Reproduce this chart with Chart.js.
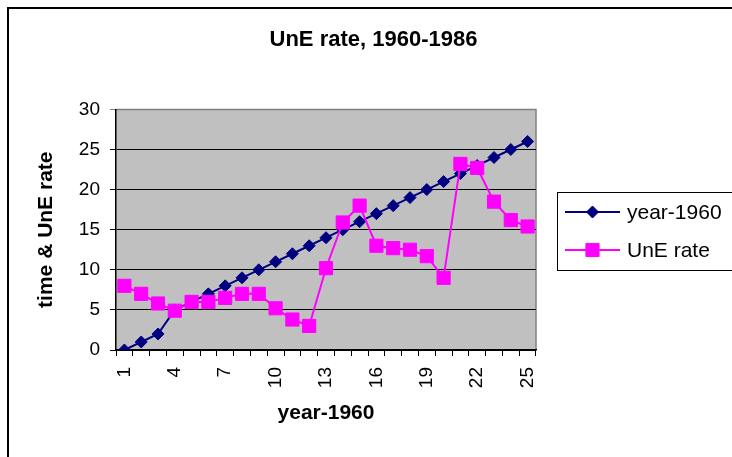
<!DOCTYPE html>
<html>
<head>
<meta charset="utf-8">
<script src="https://cdn.jsdelivr.net/npm/chart.js@4/dist/chart.umd.min.js"></script>
<style>
  html, body { margin: 0; padding: 0; background: #fff; }
  #wrap { width: 732px; height: 457px; position: relative; }
</style>
</head>
<body>
<div id="wrap"><canvas id="c"></canvas></div>
<script>
// ---- data ----
const categories = ['1','2','3','4','5','6','7','8','9','10','11','12','13','14','15','16','17','18','19','20','21','22','23','24','25'];
const shownTicks = ['1','4','7','10','13','16','19','22','25'];
const yearMinus1960 = [0,1,2,5,6,7,8,9,10,11,12,13,14,15,16,17,18,19,20,21,22,23,24,25,26];
const unERate = [8.0,7.0,5.8,4.9,6.0,6.0,6.5,7.0,7.0,5.2,3.8,3.0,10.2,15.9,18.0,13.0,12.7,12.5,11.7,9.0,23.2,22.7,18.5,16.2,15.4];
const seriesNames = ['year-1960','UnE rate'];
const yTicks = [0,5,10,15,20,25,30];

const FONT = "'Liberation Sans', Arial, Helvetica, sans-serif";
const NAVY = '#000080';
const MAGENTA = '#FF00FF';

function drawMarker(ctx, style, x, y, r, color) {
  ctx.save();
  ctx.fillStyle = color;
  ctx.strokeStyle = color;
  ctx.lineWidth = 1;
  ctx.beginPath();
  if (style === 'rectRot') {
    ctx.moveTo(x, y - r); ctx.lineTo(x + r, y); ctx.lineTo(x, y + r); ctx.lineTo(x - r, y);
  } else {
    const s = r * Math.SQRT1_2;
    ctx.rect(x - s, y - s, 2 * s, 2 * s);
  }
  ctx.closePath();
  ctx.fill();
  ctx.stroke();
  ctx.restore();
}

const decorPlugin = {
  id: 'decor',
  beforeDraw(chart) {
    const ctx = chart.ctx;
    const a = chart.chartArea;
    ctx.save();
    ctx.fillStyle = '#ffffff';
    ctx.fillRect(0, 0, chart.width, chart.height);
    // outer chart border (top & left visible)
    ctx.strokeStyle = '#000';
    ctx.lineWidth = 2;
    ctx.beginPath();
    ctx.moveTo(8, chart.height + 2);
    ctx.lineTo(8, 8);
    ctx.lineTo(chart.width + 2, 8);
    ctx.stroke();
    // plot area
    ctx.fillStyle = '#C0C0C0';
    ctx.fillRect(a.left, a.top, a.right - a.left, a.bottom - a.top);
    ctx.strokeStyle = '#808080';
    ctx.lineWidth = 1.5;
    ctx.beginPath();
    ctx.moveTo(a.left, a.top);
    ctx.lineTo(a.right, a.top);
    ctx.lineTo(a.right, a.bottom);
    ctx.stroke();
    ctx.restore();
  },
  afterDraw(chart) {
    const ctx = chart.ctx;
    ctx.save();
    // legend box
    ctx.strokeStyle = '#000';
    ctx.lineWidth = 1;
    ctx.strokeRect(557.5, 192.5, 200, 78);
    const ds = chart.data.datasets;
    const order = [0, 1];
    order.forEach((di, i) => {
      const d = ds[di];
      const y = 212 + i * 38;
      ctx.strokeStyle = d.borderColor;
      ctx.lineWidth = 2;
      ctx.beginPath();
      ctx.moveTo(565, y);
      ctx.lineTo(620, y);
      ctx.stroke();
      drawMarker(ctx, d.pointStyle, 592.5, y, d.pointRadius, d.borderColor);
      ctx.fillStyle = '#000';
      ctx.font = '21px ' + FONT;
      ctx.textBaseline = 'middle';
      ctx.textAlign = 'left';
      ctx.fillText(d.label, 627, y + 1);
    });
    ctx.restore();
  }
};

new Chart(document.getElementById('c'), {
  type: 'line',
  data: {
    labels: categories,
    datasets: [
      {
        label: seriesNames[0],
        data: yearMinus1960,
        borderColor: NAVY,
        backgroundColor: NAVY,
        borderWidth: 2,
        pointStyle: 'rectRot',
        pointRadius: 6,
        pointHoverRadius: 6,
        pointBorderWidth: 1,
        tension: 0,
        order: 1
      },
      {
        label: seriesNames[1],
        data: unERate,
        borderColor: MAGENTA,
        backgroundColor: MAGENTA,
        borderWidth: 2,
        pointStyle: 'rect',
        pointRadius: 9.3,
        pointHoverRadius: 9.3,
        pointBorderWidth: 1,
        tension: 0,
        order: 0
      }
    ]
  },
  options: {
    responsive: true,
    maintainAspectRatio: false,
    animation: false,
    events: [],
    layout: { padding: { left: 15, right: 0, top: 0, bottom: 0 } },
    plugins: {
      legend: { display: false },
      tooltip: { enabled: false },
      title: {
        display: true,
        text: 'UnE rate, 1960-1986',
        color: '#000',
        font: { family: FONT, size: 22, weight: 'bold' },
        padding: { top: 27, bottom: 56 }
      }
    },
    scales: {
      x: {
        type: 'category',
        offset: true,
        grid: {
          offset: true,
          drawOnChartArea: false,
          drawTicks: true,
          tickLength: 6,
          color: '#000',
          lineWidth: 1
        },
        border: { display: true, color: '#000', width: 1.5 },
        ticks: {
          autoSkip: false,
          maxRotation: 90,
          minRotation: 90,
          padding: 11,
          color: '#000',
          font: { family: FONT, size: 19 },
          callback: function (val, idx) {
            const lab = categories[idx];
            return shownTicks.includes(lab) ? lab : '';
          }
        },
        title: {
          display: true,
          text: 'year-1960',
          color: '#000',
          font: { family: FONT, size: 21, weight: 'bold' },
          padding: { top: 0, bottom: 31 }
        },
        afterFit(scale) { scale.height = 107; }
      },
      y: {
        type: 'linear',
        position: 'left',
        min: 0,
        max: 30,
        afterBuildTicks(scale) { scale.ticks = yTicks.map(v => ({ value: v })); },
        grid: {
          drawOnChartArea: true,
          drawTicks: true,
          tickLength: 6,
          color: (c) => (c.tick && c.tick.value === 30 ? '#808080' : '#000'),
          lineWidth: 1
        },
        border: { display: true, color: '#000', width: 1.5 },
        ticks: {
          padding: 10,
          color: '#000',
          font: { family: FONT, size: 19 }
        },
        title: {
          display: true,
          text: 'time & UnE rate',
          color: '#000',
          font: { family: FONT, size: 21, weight: 'bold' },
          padding: { top: 19, bottom: 0 }
        },
        afterFit(scale) { scale.width = 101; }
      },
      yR: {
        type: 'linear',
        position: 'right',
        display: true,
        grid: { display: false, drawTicks: false },
        border: { display: false },
        ticks: { display: false },
        afterFit(scale) { scale.width = 196; }
      }
    }
  },
  plugins: [decorPlugin]
});
</script>
</body>
</html>
